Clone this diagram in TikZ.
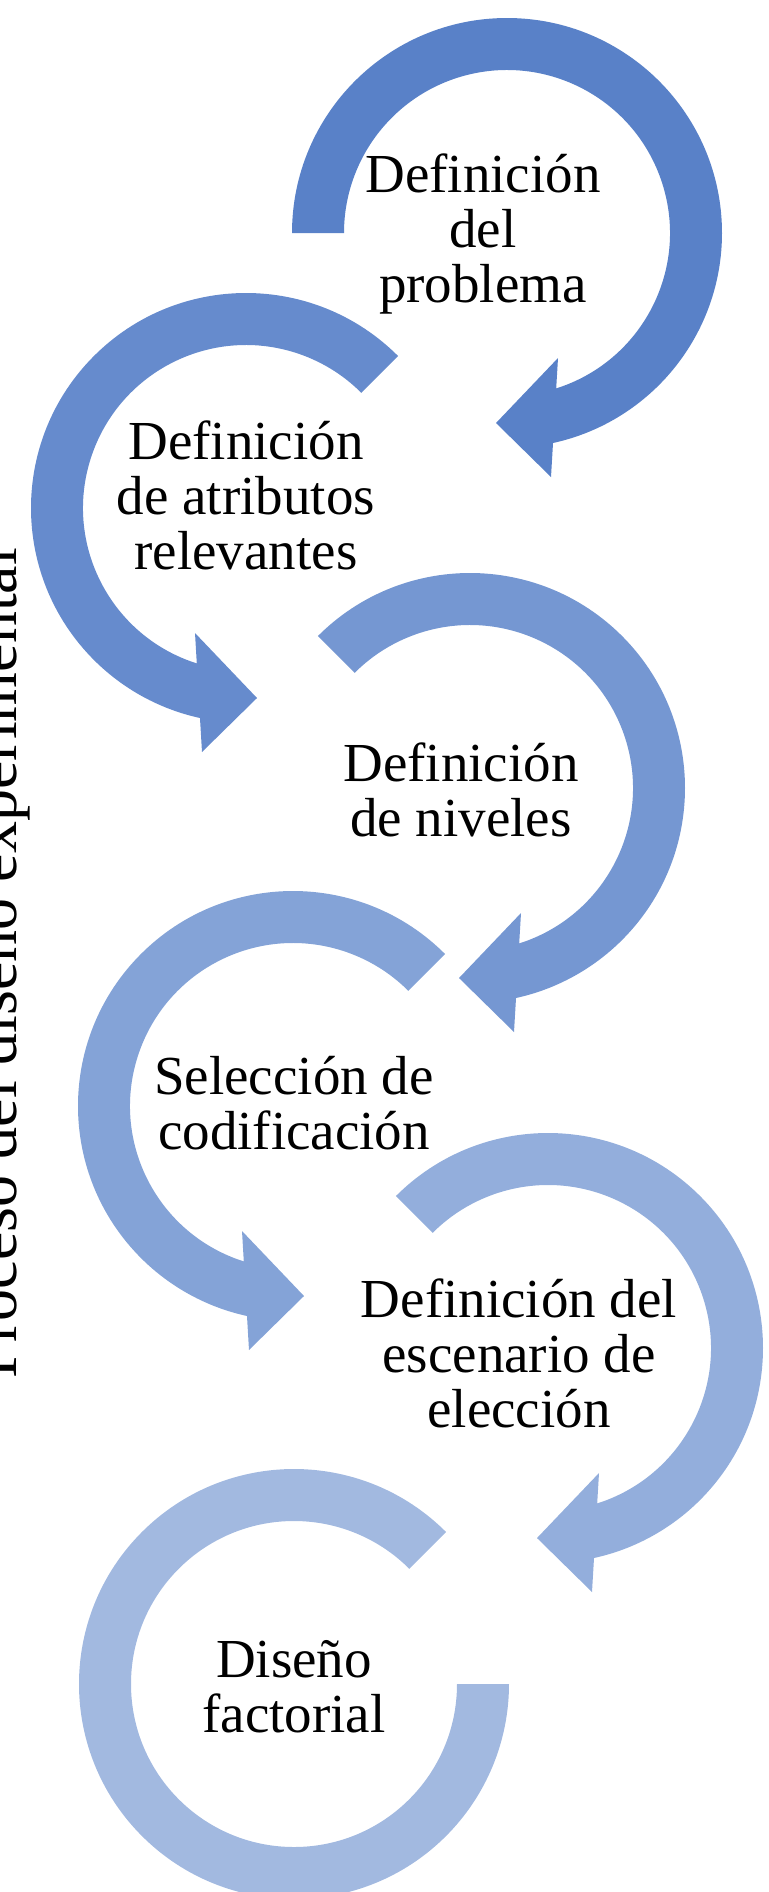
\documentclass[tikz,border=0pt]{standalone}
\usepackage{fontspec}
\setmainfont{Liberation Serif}
\usetikzlibrary{positioning}

\definecolor{arrowA}{HTML}{5981C8}
\definecolor{arrowB}{HTML}{668BCD}
\definecolor{arrowC}{HTML}{7597D2}
\definecolor{arrowD}{HTML}{84A3D7}
\definecolor{arrowE}{HTML}{93AEDC}
\definecolor{arrowF}{HTML}{A2B9E0}

\begin{document}
\begin{tikzpicture}[x = 0.5pt, y = 0.5pt,
		ring/.style = {fill = #1},
		steptext/.style = {align = center, anchor = base, font = {\fontsize{27.5}{27.35}\selectfont}}]
					\clip (0, 0) rectangle (769, -1892);
					\fill [ring = arrowA, shift = {(507, -233)}] (180 : 215) arc [start angle = 180, end angle = -77.64, radius = 215] -- (44, -244) -- (-11, -190) -- (51, -125) -- (49.2, -155.4) arc [start angle = -72.43, end angle = 180, radius = 163] -- cycle;
					\fill [ring = arrowB, shift = {(246, -508)}] (45 : 215) arc [start angle = 45, end angle = 257.64, radius = 215] -- (-44, -244) -- (11, -190) -- (-51, -125) -- (-49.2, -155.4) arc [start angle = 252.43, end angle = 45, radius = 163] -- cycle;
					\fill [ring = arrowC, shift = {(470, -788)}] (135 : 215) arc [start angle = 135, end angle = -77.64, radius = 215] -- (44, -244) -- (-11, -190) -- (51, -125) -- (49.2, -155.4) arc [start angle = -72.43, end angle = 135, radius = 163] -- cycle;
					\fill [ring = arrowD, shift = {(293, -1106)}] (45 : 215) arc [start angle = 45, end angle = 257.64, radius = 215] -- (-44, -244) -- (11, -190) -- (-51, -125) -- (-49.2, -155.4) arc [start angle = 252.43, end angle = 45, radius = 163] -- cycle;
					\fill [ring = arrowE, shift = {(548, -1348)}] (135 : 215) arc [start angle = 135, end angle = -77.64, radius = 215] -- (44, -244) -- (-11, -190) -- (51, -125) -- (49.2, -155.4) arc [start angle = -72.43, end angle = 135, radius = 163] -- cycle;
					\fill [ring = arrowF, shift = {(294, -1684)}] (45 : 215) arc [start angle = 45, end angle = 360, radius = 215] -- (163, 0) arc [start angle = 360, end angle = 45, radius = 163] -- cycle;
					\node (problema) at (483, -302) [steptext] {Definición\\del\\problema};
					\node (atributos) at (246, -569) [steptext] {Definición\\de atributos\\relevantes};
					\node (niveles) at (461, -836) [steptext] {Definición\\de niveles};
					\node (codificacion) at (294, -1149) [steptext] {Selección de\\codificación};
					\node (escenario) at (519, -1427) [steptext] {Definición del\\escenario de\\elección};
					\node (factorial) at (294, -1732) [steptext] {Diseño\\factorial};
					\node (titulo) at (17, -963) [rotate = 90, anchor = base, font = {\fontsize{32}{38}\selectfont}] {Proceso del diseño experimental};
				\end{tikzpicture}
\end{document}
